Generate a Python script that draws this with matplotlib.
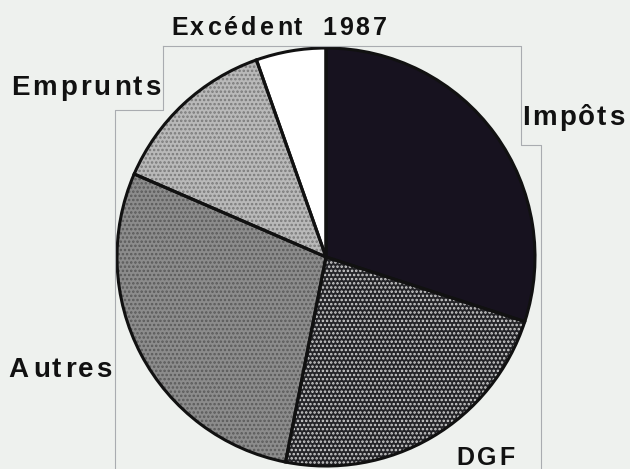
import matplotlib
matplotlib.use("Agg")
import matplotlib.pyplot as plt
from matplotlib import font_manager
from matplotlib.ft2font import FT2Font

# parts of the 1987 budget (percent)
labels = ["Impôts", "DGF", "Autres", "Emprunts", "Excédent"]
values = [30.0, 23.1, 28.4, 13.1, 5.4]
title = ["Excédent", "1987"]
faces = ["#17121f", "#242428", "#8c8c8c", "#b9b9b9", "#ffffff"]
dots = [None, "#d0d0d0", "#5a5a5a", "#7a7a7a", None]

W, H = 630, 469
DPI = 100
fig = plt.figure(figsize=(W / DPI, H / DPI), dpi=DPI)
fig.patch.set_facecolor("#eef1ee")
ax = fig.add_axes([0, 0, 1, 1])

cx, cy, r = 326, H - 257, 209

# fill with a dot texture first
plt.rcParams["hatch.linewidth"] = 1.2
wedges, _ = ax.pie(values, startangle=90, counterclock=False,
                   center=(cx, cy), radius=r, colors=faces,
                   wedgeprops=dict(linewidth=0))
for w, d in zip(wedges, dots):
    if d:
        w.set_hatch("....")
        w.set_edgecolor(d)

# black outlines on top
ax.pie(values, startangle=90, counterclock=False, center=(cx, cy), radius=r,
       colors=["none"] * len(values),
       wedgeprops=dict(linewidth=2.2, edgecolor="#111111", fill=False))

ax.set_xlim(0, W)
ax.set_ylim(0, H)
ax.set_aspect("equal")
ax.axis("off")

# faint frame lines from the page layout
gray = "#a9acb0"
ax.plot([163, 521, 521, 541, 541], [H - 46, H - 46, H - 145, H - 145, 0],
        color=gray, lw=0.8)
ax.plot([163, 163, 115, 115], [H - 46, H - 110, H - 110, 0], color=gray, lw=0.8)

fp = font_manager.FontProperties(family="Liberation Sans", weight="bold")
ft = FT2Font(font_manager.findfont(fp))


def spaced(x, baseline, s, size, track):
    # letter-spaced label, one real text per glyph
    ft.set_size(size, DPI)
    pen = x
    for ch in s:
        g = ft.load_char(ord(ch))
        ax.text(pen + g.horiBearingX / 64, H - baseline, ch, ha="left",
                va="baseline", fontproperties=fp, fontsize=size,
                color="#111111")
        pen += g.linearHoriAdvance / 65536 + track


spaced(170, 35, title[0], 18, 3)
spaced(321, 35, title[1], 18, 3)
spaced(9, 95, labels[3], 20, 3)
spaced(520, 125, labels[0], 20, 2.6)
spaced(8, 377, labels[2], 20, 3)
spaced(455, 465, labels[1], 18, 2.5)

fig.savefig("out.png", dpi=DPI, facecolor=fig.get_facecolor())
